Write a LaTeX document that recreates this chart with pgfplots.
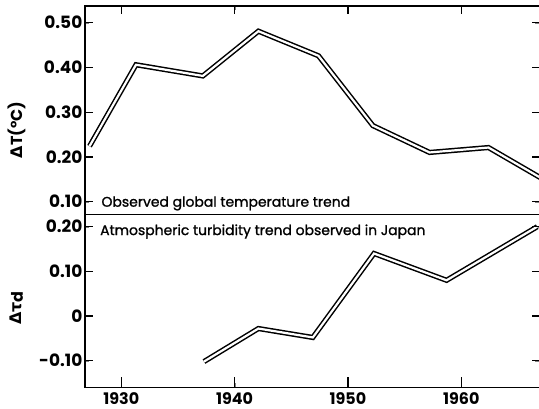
\documentclass[border=0pt]{standalone}
\usepackage{fontspec}
\setmainfont{Poppins}
\newfontfamily\dv{DejaVu Sans}
\newfontfamily\pmed[FakeBold=1.2]{Poppins}
\usepackage{pgfplots}
\pgfplotsset{compat=1.18}
\tikzset{tk/.style={black, line width=1.2bp}}
\pgfplotsset{
  base/.style={
    scale only axis, width=454.5bp,
    xmin=1926.8, xmax=1966.9,
    axis line style={line width=1.4bp},
    xtick={1930,1940,1950,1960},
    yticklabel style={font=\fontsize{17}{17}\selectfont\bfseries, inner sep=0pt, xshift=-2.5bp},
    xticklabel style={font=\fontsize{16}{16}\selectfont\bfseries, inner sep=0pt, yshift=-5.5bp},
    every axis y label/.style={rotate=90, anchor=center, font=\fontsize{16}{16}\selectfont\bfseries},
  },
  dl/.style={black, line width=1.5bp, double=white, double distance=2.2bp, line join=miter, mark=none}
}
\begin{document}
\begin{tikzpicture}
\path[use as bounding box] (-85bp,-21.7bp) rectangle (454bp,387.3bp);
\begin{axis}[base, at={(0,173bp)}, anchor=south west, height=208.3bp,
  ymin=0.0718, ymax=0.5373,
  ytick={0.1,0.2,0.3,0.4,0.5}, yticklabels={0.10,0.20,0.30,0.40,0.50},
  xtick pos=top, ytick pos=both, yticklabel pos=left, xticklabels={},
  ylabel={{\dv\bfseries Δ}T(°C)},
  ylabel style={at={(axis description cs:-0.1507,0.405)}}]
\addplot[dl] coordinates {(1927.2,0.224) (1931.3,0.406) (1937.2,0.381) (1942.1,0.481) (1947.4,0.426) (1952.2,0.270) (1957.2,0.210) (1962.4,0.221) (1967.5,0.146)};
\pgfplotsinvokeforeach{0.0798,0.3292,0.5786,0.8279}{\draw[tk] (rel axis cs:#1,1) -- (rel axis cs:#1,0.9616);}
\pgfplotsinvokeforeach{0.0606,0.2754,0.4902,0.7050,0.9199}{\draw[tk] (rel axis cs:0,#1) -- (rel axis cs:0.0176,#1); \draw[tk] (rel axis cs:1,#1) -- (rel axis cs:0.9824,#1);}
\node[anchor=base west, font=\fontsize{14}{14}\pmed] at (rel axis cs:0.0286,0.0365) {Observed global temperature trend};
\end{axis}
\begin{axis}[base, at={(0,0)}, anchor=south west, height=173bp,
  ymin=-0.1596, ymax=0.2278,
  ytick={-0.1,0,0.1,0.2}, yticklabels={-0.10,0,0.10,0.20},
  xtick pos=bottom, ytick pos=both, yticklabel pos=left, xticklabels={1930,1940,1950,1960},
  ylabel={{\dv\bfseries Δτ}\raisebox{-0.15ex}{d}},
  ylabel style={at={(axis description cs:-0.1507,0.458)}}]
\addplot[dl] coordinates {(1937.3,-0.102) (1942.1,-0.028) (1946.9,-0.048) (1952.3,0.140) (1958.7,0.080) (1966.7,0.200)};
\pgfplotsinvokeforeach{0.0798,0.3292,0.5786,0.8279}{\draw[tk] (rel axis cs:#1,0) -- (rel axis cs:#1,0.0578);}
\pgfplotsinvokeforeach{0.1538,0.4120,0.6701,0.9283}{\draw[tk] (rel axis cs:0,#1) -- (rel axis cs:0.0176,#1); \draw[tk] (rel axis cs:1,#1) -- (rel axis cs:0.9824,#1);}
\node[anchor=base west, font=\fontsize{14}{14}\pmed] at (rel axis cs:0.0257,0.880) {Atmospheric turbidity trend observed in Japan};
\end{axis}
\end{tikzpicture}
\end{document}
